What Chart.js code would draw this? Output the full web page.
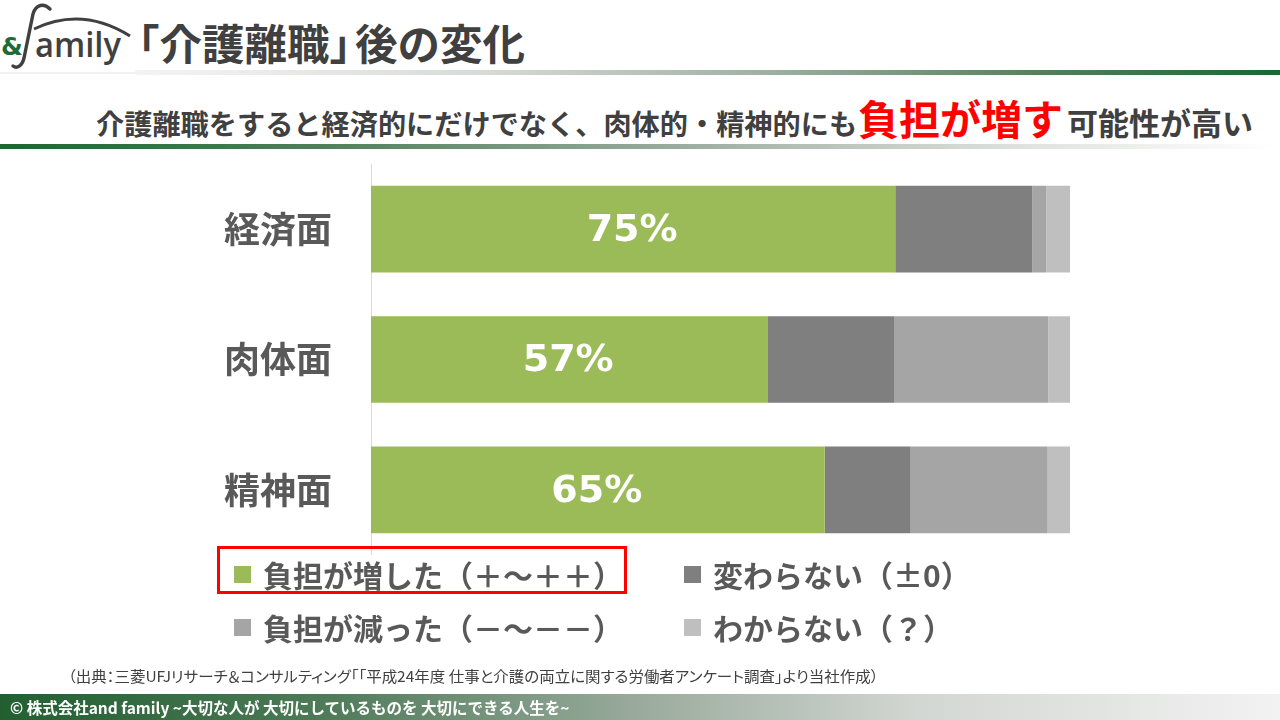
<!DOCTYPE html>
<html lang="ja">
<head>
<meta charset="utf-8">
<script src="https://cdn.jsdelivr.net/npm/chart.js@4.4.1/dist/chart.umd.min.js"></script>
<style>
  html,body{margin:0;padding:0;background:#fff;}
  body{width:1280px;height:720px;position:relative;overflow:hidden;font-family:"Noto Sans CJK JP","Noto Sans",sans-serif;}
  .abs{position:absolute;white-space:nowrap;}
  #title{left:117px;top:14px;font-size:42.5px;font-weight:bold;color:#404040;line-height:56px;}
  #title .br{margin-right:-17px;}
  #lineTop{left:135px;top:70px;width:1145px;height:5px;background:linear-gradient(90deg,#f4f4f4 0%,#d8dcd8 30%,#9fb0a2 55%,#4f7f5a 80%,#1c6630 100%);}
  #lineTopL{left:0;top:72px;width:135px;height:2px;background:#f2f2f2;}
  #subtitle{left:96px;top:92px;font-size:28.2px;font-weight:bold;color:#404040;line-height:50px;}
  #subtitle .red{color:#ff0000;font-size:41px;margin-left:1px;margin-right:4px;}
  #subtitle .tail{font-size:31px;}
  #lineSub{left:0;top:144px;width:1280px;height:5px;background:linear-gradient(90deg,#1c6630 0%,#4f7f5a 25%,#9fb0a2 55%,#dfe2df 80%,#ffffff 100%);}
  #chartBox{left:0;top:164px;width:1280px;height:391px;}
  #c{width:1280px;height:391px;display:block;}
  #legend{left:0;top:0;width:1280px;height:720px;pointer-events:none;}
  .lg{position:absolute;display:flex;align-items:center;font-size:30px;font-weight:bold;color:#595959;white-space:nowrap;}
  .lg .sw{width:17px;height:17px;margin-right:12px;}
  #redbox{left:217px;top:546px;width:404px;height:42px;border:3px solid #ff0000;}
  #source{left:68px;top:664px;font-size:15px;color:#404040;line-height:24px;transform-origin:0 50%;font-feature-settings:"palt";}
  #footer{left:0;top:694px;width:1280px;height:26px;background:linear-gradient(90deg,#215f31 0%,#4d7a57 25%,#9aab9d 50%,#d3d7d3 72%,#f2f2f2 100%);}
  #footer span{position:absolute;left:10px;top:0;line-height:26px;font-size:15.5px;font-weight:bold;color:#fff;}
</style>
</head>
<body>
<script>
// ---- data ----
const categories = ['経済面', '肉体面', '精神面'];
const increased  = [75.0, 56.7, 64.9];   // 負担が増した
const unchanged  = [19.6, 18.2, 12.3];   // 変わらない
const decreased  = [2.0, 22.0, 19.6];    // 負担が減った
const unknown    = [3.4, 3.1, 3.2];      // わからない
const seriesNames = ['負担が増した（＋～＋＋）', '変わらない（±0）', '負担が減った（－～－－）', 'わからない（？）'];
const xTicks = [0, 100];
</script>

<svg class="abs" style="left:0;top:0" width="135" height="72">
  <text x="1" y="55" font-family="DejaVu Sans" font-weight="bold" font-size="25" fill="#1e6b35">&amp;</text>
  <path d="M50 9 C 44 3, 36 4, 33 14 L 24 58 C 22 66, 17 69, 13 66" stroke="#404040" stroke-width="3.4" fill="none" stroke-linecap="round"/>
  <text x="35" y="57" font-family="Open Sans" font-weight="600" font-size="34" fill="#404040" textLength="86" lengthAdjust="spacingAndGlyphs">amily</text>
  <path d="M34 29 Q 82 6 130 36" stroke="#404040" stroke-width="3" fill="none"/>
</svg>
<div id="title" class="abs">「介護離職<span class="br">」</span>後の変化</div>
<div id="lineTopL" class="abs"></div>
<div id="lineTop" class="abs"></div>
<div id="subtitle" class="abs">介護離職をすると経済的にだけでなく、肉体的・精神的にも<span class="red">負担が増す</span><span class="tail">可能性が高い</span></div>
<div id="lineSub" class="abs"></div>

<div id="chartBox" class="abs"><canvas id="c"></canvas></div>
<div id="legend" class="abs"></div>
<div id="redbox" class="abs"></div>
<div id="source" class="abs">（出典：三菱UFJリサーチ＆コンサルティング「「平成24年度 仕事と介護の両立に関する労働者アンケート調査」より当社作成）</div>
<div id="footer" class="abs"><span>© 株式会社and family ~大切な人が 大切にしているものを 大切にできる人生を~</span></div>

<script>
const colors = ['#9bbb59', '#7f7f7f', '#a5a5a5', '#bfbfbf'];
const seriesData = [increased, unchanged, decreased, unknown];

const src = document.getElementById('source');
src.style.transform = 'scaleX(' + (810 / src.offsetWidth) + ')';

const labelPlugin = {
  id: 'greenLabels',
  afterDatasetsDraw(chart) {
    const ctx = chart.ctx;
    const meta = chart.getDatasetMeta(0);
    ctx.save();
    ctx.font = 'bold 38px "DejaVu Sans"';
    ctx.fillStyle = '#ffffff';
    ctx.textAlign = 'center';
    ctx.textBaseline = 'middle';
    meta.data.forEach((bar, i) => {
      const v = chart.data.datasets[0].data[i];
      ctx.fillText(Math.round(v) + '%', (bar.x + bar.base) / 2 - 1, bar.y + 2);
    });
    ctx.restore();
  }
};

const legendPlugin = {
  id: 'htmlLegend',
  afterUpdate(chart) {
    const box = document.getElementById('legend');
    box.innerHTML = '';
    const pos = [[234, 574], [684, 574], [234, 627], [684, 627]];
    chart.data.datasets.forEach((ds, i) => {
      const d = document.createElement('div');
      d.className = 'lg';
      d.style.left = pos[i][0] + 'px';
      d.style.top = (pos[i][1] - 22) + 'px';
      d.style.height = '44px';
      const sw = document.createElement('span');
      sw.className = 'sw';
      sw.style.background = ds.backgroundColor;
      const t = document.createElement('span');
      t.textContent = ds.label;
      d.appendChild(sw); d.appendChild(t);
      box.appendChild(d);
    });
  }
};

new Chart(document.getElementById('c'), {
  type: 'bar',
  data: {
    labels: categories,
    datasets: seriesData.map((d, i) => ({
      label: seriesNames[i],
      data: d,
      backgroundColor: colors[i],
      borderWidth: 0,
      categoryPercentage: 1,
      barPercentage: 0.665
    }))
  },
  options: {
    indexAxis: 'y',
    responsive: true,
    maintainAspectRatio: false,
    animation: false,
    layout: { padding: { left: 0, right: 210, top: 0, bottom: 0 } },
    plugins: { legend: { display: false }, tooltip: { enabled: false } },
    scales: {
      x: {
        stacked: true, min: xTicks[0], max: xTicks[1], display: false
      },
      y: {
        stacked: true,
        grid: { display: false, drawTicks: false },
        border: { display: true, color: '#d9d9d9', width: 1 },
        ticks: {
          padding: 39,
          color: '#595959',
          font: { family: '"Noto Sans CJK JP"', weight: 'bold', size: 36 }
        },
        afterFit(scale) {
          scale.width = 371;
          scale.paddingTop = 0;
          scale.paddingBottom = 0;
        }
      }
    }
  },
  plugins: [labelPlugin, legendPlugin]
});
</script>
</body>
</html>
